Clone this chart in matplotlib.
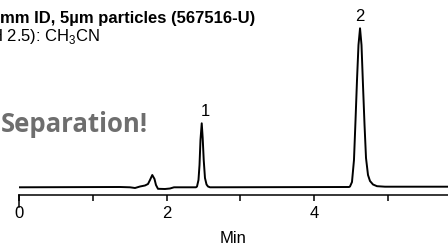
import matplotlib
matplotlib.use("Agg")
import matplotlib.pyplot as plt

plt.rcParams['font.family'] = ['Liberation Sans', 'DejaVu Sans']
plt.rcParams['mathtext.fontset'] = 'custom'
plt.rcParams['mathtext.rm'] = 'Liberation Sans'

# chromatogram trace (time in min, detector signal)
time_min = [0.000, 1.369, 1.504, 1.572, 1.640, 1.707, 1.748, 1.775, 1.806, 1.836,
            1.856, 1.883, 1.978, 2.046, 2.100, 2.398,
            2.412, 2.432, 2.446, 2.459, 2.476, 2.489, 2.503, 2.520, 2.541, 2.561, 2.588,
            4.472, 4.485, 4.512, 4.539, 4.560, 4.580, 4.600, 4.621, 4.641, 4.661,
            4.682, 4.702, 4.729, 4.756, 4.797, 4.851, 4.959, 5.813]
signal = [0.0, 0.3, 0.0, -0.7, 0.8, 1.8, 3.3, 7.3, 12.3, 8.3,
          2.3, -1.5, -1.7, -1.2, 0.0, 0.0,
          0.8, 7.3, 22.3, 47.3, 64.0, 49.3, 27.3, 9.3, 2.8, 0.8, 0.0,
          0.3, 0.8, 5.3, 27.3, 67.3, 107.3, 142.3, 159.0, 142.3, 102.3,
          62.3, 29.3, 12.3, 6.3, 2.8, 1.1, 0.6, 0.6]

peak_labels = ['1', '2']
peak_times = [2.476, 4.621]
peak_heights = [64.0, 159.0]

tick_values = [0, 1, 2, 3, 4, 5]
tick_labels = ['0', '', '2', '', '4', '']

fig = plt.figure(figsize=(4.48, 2.47), dpi=100)
ax = fig.add_axes([19 / 448, 1 - 195 / 247, 1 - 19 / 448, 195 / 247])

ax.plot(time_min, signal, color='black', lw=1.4, solid_joinstyle='round')

for lab, t, h in zip(peak_labels, peak_times, peak_heights):
    ax.annotate(lab, (t, h), xytext=(2.5 if lab == '1' else 0, 3),
                textcoords='offset points', ha='center', va='bottom', fontsize=12)

ax.set_xlim(0, 5.813)
ax.set_ylim(-7.7, 187.3)
for s in ['top', 'right', 'left']:
    ax.spines[s].set_visible(False)
ax.spines['bottom'].set_linewidth(1.1)
ax.set_yticks([])
ax.set_xticks(tick_values)
ax.set_xticklabels(tick_labels, fontsize=12)
ax.tick_params(axis='x', length=4, width=1.1, pad=4)
# longer tick at zero
ax.plot([0, 0], [0, -0.06], transform=ax.get_xaxis_transform(),
        color='black', lw=1.1, clip_on=False)

fig.text(233 / 448, 1 / 247, 'Min', ha='center', va='bottom', fontsize=12)

fig.text(0, 1 - 23 / 247, 'mm ID, 5\u00b5m particles (567516-U)',
         ha='left', va='baseline', fontsize=12, fontweight='bold')
fig.text(101 / 448, 1 - 40.5 / 247, 'pH 2.5): CH$_3$CN',
         ha='right', va='baseline', fontsize=12)

fig.text(148 / 448, 1 - 131.7 / 247, 'Separation!', ha='right', va='baseline',
         fontsize=18.5, fontweight='bold', color='#6e6e6e',
         family=['Open Sans', 'DejaVu Sans'])

fig.savefig('out.png', dpi=100)
